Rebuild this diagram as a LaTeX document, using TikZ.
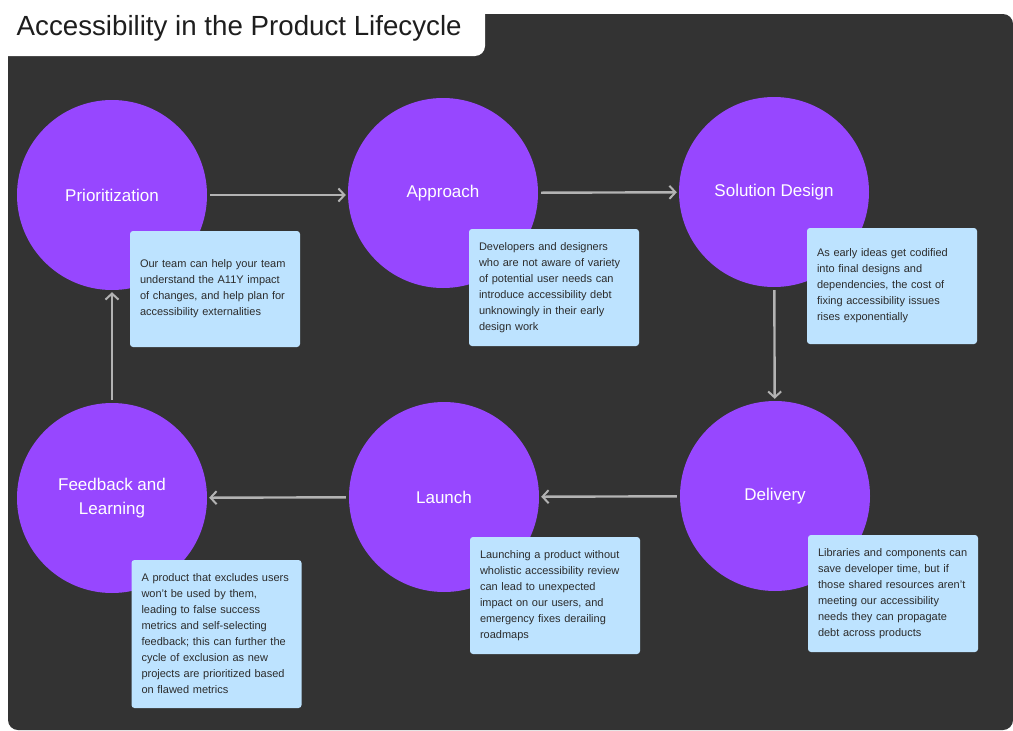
\documentclass[tikz,border=0pt]{standalone}
\usepackage{fontspec}
\setmainfont{Liberation Sans}
\usetikzlibrary{arrows.meta}
\definecolor{panel}{HTML}{333333}
\definecolor{purp}{HTML}{9747FF}
\definecolor{notefill}{HTML}{BDE3FF}
\definecolor{arrowgray}{HTML}{B3B3B3}
\definecolor{notetext}{HTML}{2C2C2C}
\definecolor{titletext}{HTML}{1E1E1E}
\tikzset{
  stage/.style={circle, fill=purp, minimum size=190pt, inner sep=0pt, text=white, align=center, font=\fontsize{17}{24}\selectfont},
  note/.style={rectangle, rounded corners=3pt, fill=notefill, text width=150pt, inner xsep=10pt, inner ysep=4pt, align=left, text=notetext, font=\fontsize{11}{16}\selectfont},
  flow/.style={draw=arrowgray, line width=2.4pt, -{Straight Barb[length=6pt,width=13pt,line width=2pt]}, shorten <=3pt, shorten >=2pt}
}
\begin{document}
\begin{tikzpicture}[x=1pt,y=-1pt]
\useasboundingbox (0,0) rectangle (1013,731);
\fill[white] (0,0) rectangle (1013,731);
\fill[panel, rounded corners=10pt] (8,14) rectangle (1013,730);
\fill[white, rounded corners=10pt] (-30,-30) rectangle (485,56);
\node[anchor=base west, inner sep=0pt, text=titletext, font=\fontsize{27.7}{32}\selectfont] (title) at (16.5,35) {Accessibility in the Product Lifecycle};

\node[stage] (p) at (112,195) {Prioritization};
\node[stage] (a) at (443,193) {Approach};
\node[stage] (s) at (774,192) {Solution Design};
\node[stage] (d) at (775,496) {Delivery};
\node[stage] (l) at (444,497) {Launch};
\node[stage] (f) at (112,498) {Feedback and\\Learning};

\node[note, minimum height=116pt] (n1) at (215,289) {Our team can help your team\\understand the A11Y impact\\of changes, and help plan for\\accessibility externalities};
\node[note, minimum height=117pt] (n2) at (554,287.5) {Developers and designers\\who are not aware of variety\\of potential user needs can\\introduce accessibility debt\\unknowingly in their early\\design work};
\node[note, minimum height=116pt] (n3) at (892,286) {As early ideas get codified\\into final designs and\\dependencies, the cost of\\fixing accessibility issues\\rises exponentially};
\node[note, minimum height=148pt] (n4) at (216.5,634) {A product that excludes users\\won't be used by them,\\leading to false success\\metrics and self-selecting\\feedback; this can further the\\cycle of exclusion as new\\projects are prioritized based\\on flawed metrics};
\node[note, minimum height=117pt] (n5) at (555,595.5) {Launching a product without\\wholistic accessibility review\\can lead to unexpected\\impact on our users, and\\emergency fixes derailing\\roadmaps};
\node[note, minimum height=117pt] (n6) at (893,593.5) {Libraries and components can\\save developer time, but if\\those shared resources aren't\\meeting our accessibility\\needs they can propagate\\debt across products};

\draw[flow] (p) -- (p -| a.west);
\draw[flow] (a) -- (s);
\draw[flow] (s) -- (d);
\draw[flow] (d) -- (l);
\draw[flow] (l) -- (f);
\draw[flow] (f) -- (p);
\end{tikzpicture}
\end{document}
